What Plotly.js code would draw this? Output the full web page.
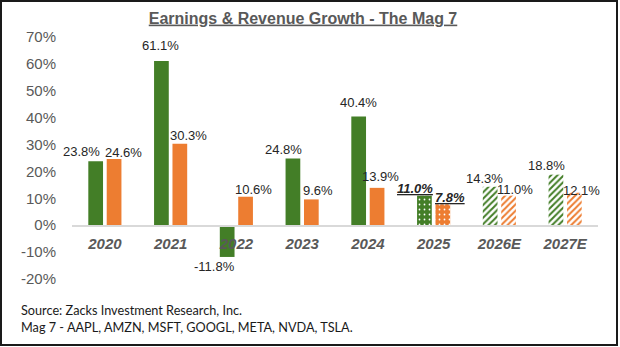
<!DOCTYPE html>
<html>
<head>
<meta charset="utf-8">
<script src="https://cdn.plot.ly/plotly-3.0.1.min.js"></script>
<style>html,body{margin:0;padding:0;background:#fff;}#chart{width:620px;height:347px;}</style>
</head>
<body>
<div id="chart"></div>
<script>
// ---- data ----
const categories = ['2020', '2021', '2022', '2023', '2024', '2025', '2026E', '2027E'];
const earningsGrowth = [23.8, 61.1, -11.8, 24.8, 40.4, 11.0, 14.3, 18.8];
const revenueGrowth = [24.6, 30.3, 10.6, 9.6, 13.9, 7.8, 11.0, 12.1];
const yTickVals = [-20, -10, 0, 10, 20, 30, 40, 50, 60, 70];
const yTickText = ['-20%', '-10%', '0%', '10%', '20%', '30%', '40%', '50%', '60%', '70%'];
const titleText = 'Earnings &amp; Revenue Growth - The Mag 7';
const sourceLines = ['Source: Zacks Investment Research, Inc.', 'Mag 7 - AAPL, AMZN, MSFT, GOOGL, META, NVDA, TSLA.'];
const currentYear = '2025';
const estimateYears = ['2026E', '2027E'];

// ---- style / layout ----
const GREEN = '#437E27';
const ORANGE = '#ED7D31';
const W = 620, H = 347;
const M = {l: 72, r: 22, t: 37, b: 68};
const plotW = W - M.l - M.r, plotH = H - M.t - M.b;
const yMin = -20, yMax = 70;
const bargap = 0.44, bargroupgap = 0.2;
const catW = plotW / categories.length;
const barOffset = catW * (1 - bargap) / 4; // centre of each bar from category centre

// label offsets in px (dx horizontal, dy = distance of label centre beyond bar end)
const dxE = [-14, -0.7, -12.7, -9, 0, -9.5, -5.4, -9.6];
const dyE = [10, 15, 9.6, 8.7, 14.5, 7, 8, 9];
const dxR = [9, 8.7, 7.7, 6.7, 3.4, 7.3, 6, 7.3];
const dyR = [7, 8, 7.7, 8.5, 11.8, 6.7, 6, 2];

const px2x = px => (px - M.l) / plotW;
const py2y = py => (H - M.b - py) / plotH;

function patternFor(color) {
  return {
    shape: categories.map(c => c === currentYear ? '.' : (estimateYears.includes(c) ? '/' : '')),
    bgcolor: categories.map(c => estimateYears.includes(c) ? '#ffffff' : color),
    fgcolor: categories.map(c => estimateYears.includes(c) ? color : '#ffffff'),
    size: categories.map(c => c === currentYear ? 5 : 4.5),
    solidity: categories.map(c => c === currentYear ? 0.1 : 0.45),
    fillmode: 'replace'
  };
}

const traces = [
  {type: 'bar', name: 'Earnings', x: categories, y: earningsGrowth,
   marker: {color: GREEN, pattern: patternFor(GREEN), line: {width: 0}}, hoverinfo: 'skip'},
  {type: 'bar', name: 'Revenue', x: categories, y: revenueGrowth,
   marker: {color: ORANGE, pattern: patternFor(ORANGE), line: {width: 0}}, hoverinfo: 'skip'}
];

const fmt = (v, c) => {
  const t = v.toFixed(1) + '%';
  return c === currentYear ? '<b><i><u>' + t + '</u></i></b>' : t;
};

const annotations = [];
function addLabels(vals, side, dx, dy) {
  vals.forEach((v, i) => {
    annotations.push({
      xref: 'x', yref: 'y', x: i, y: v,
      xshift: side * barOffset + dx[i],
      yshift: v >= 0 ? dy[i] : -dy[i],
      xanchor: 'center', yanchor: 'middle', showarrow: false,
      text: fmt(v, categories[i]),
      font: {family: 'Liberation Sans, Arial, sans-serif', size: 13, color: '#262626'}
    });
  });
}
addLabels(earningsGrowth, -1, dxE, dyE);
addLabels(revenueGrowth, 1, dxR, dyR);

sourceLines.forEach((s, i) => {
  annotations.push({
    xref: 'paper', yref: 'paper', x: px2x(19), y: py2y(309.5 + i * 17.5),
    xanchor: 'left', yanchor: 'middle', showarrow: false, text: s,
    font: {family: 'Lato, Open Sans, sans-serif', size: 12.7, color: '#1a1a1a'}
  });
});

const layout = {
  width: W, height: H,
  margin: {l: M.l, r: M.r, t: M.t, b: M.b, pad: 0},
  paper_bgcolor: '#ffffff', plot_bgcolor: '#ffffff',
  showlegend: false,
  barmode: 'group', bargap: bargap, bargroupgap: bargroupgap,
  title: {
    text: '<b><u>' + titleText + '</u></b>',
    x: 303 / W, xanchor: 'center', xref: 'container',
    y: 1 - 18 / H, yanchor: 'middle', yref: 'container',
    font: {family: 'Liberation Sans, Arial, sans-serif', size: 16, color: '#595959'}
  },
  xaxis: {
    type: 'category', range: [-0.5, categories.length - 0.5], autorange: false,
    anchor: 'free', position: (0 - yMin) / (yMax - yMin),
    showline: true, linecolor: '#d9d9d9', linewidth: 1.5,
    ticks: '', showgrid: false, zeroline: false,
    tickfont: {family: 'Liberation Sans, Arial, sans-serif', size: 15, color: '#595959', weight: 'bold', style: 'italic'},
    ticklabelstandoff: 4
  },
  yaxis: {
    range: [yMin, yMax], autorange: false, tickvals: yTickVals, ticktext: yTickText,
    showgrid: false, zeroline: false, showline: false, ticks: '',
    tickfont: {family: 'Liberation Sans, Arial, sans-serif', size: 15, color: '#595959'},
    ticklabelstandoff: 15
  },
  annotations: annotations,
  shapes: [{
    type: 'rect', xref: 'paper', yref: 'paper',
    x0: px2x(1), x1: px2x(617), y0: py2y(345), y1: py2y(1),
    line: {color: '#1a1a1a', width: 2}, fillcolor: 'rgba(0,0,0,0)', layer: 'above'
  }]
};

Plotly.newPlot('chart', traces, layout, {staticPlot: true, displayModeBar: false});
</script>
</body>
</html>
